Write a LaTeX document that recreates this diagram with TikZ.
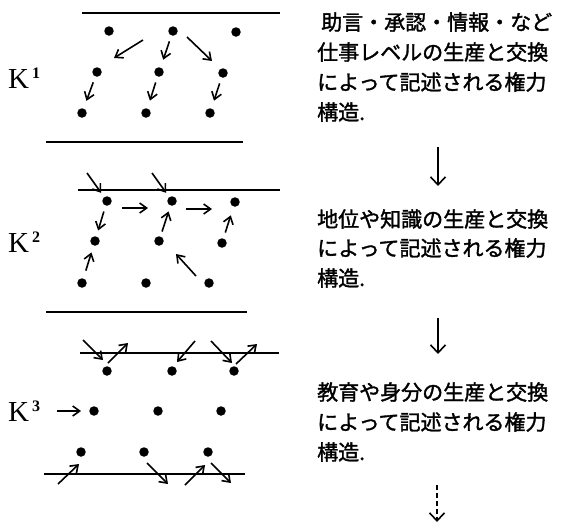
\documentclass[tikz,border=0pt]{standalone}
\usepackage{fontspec}
\newfontfamily\jp[FakeBold=1.6]{Noto Sans CJK JP}
\newfontfamily\kfont{Liberation Serif}
\usetikzlibrary{arrows.meta}
\newcommand{\ksup}[1]{\kern3pt\raisebox{10pt}{\fontsize{16}{16}\selectfont\bfseries #1}}
\tikzset{
  dot/.style={circle, fill=black, inner sep=0pt, minimum size=9.5pt},
  arr/.style={-{Straight Barb[length=7pt,width=10pt]}, line width=1.6pt},
  rule/.style={line width=1.7pt},
  klabel/.style={anchor=base west, inner sep=0pt, font=\kfont\fontsize{29}{29}\selectfont},
  jline/.style={anchor=base west, inner sep=0pt, font=\jp\fontsize{21}{21}\selectfont},
  darr/.style={-{Straight Barb[length=8pt,width=15pt]}, line width=1.6pt}
}
\begin{document}
\begin{tikzpicture}[x=1pt,y=-1pt]
\useasboundingbox (0,0) rectangle (566,523);
% ---------- K1 ----------
\draw[rule] (82,13) coordinate (l1a) -- (280,13) coordinate (l1b);
\draw[rule] (46,142) coordinate (l2a) -- (243,142) coordinate (l2b);
\node[klabel] (k1) at (8,88) {K\ksup{1}};
\node[dot] (a11) at (109,31) {};
\node[dot] (a12) at (173,31) {};
\node[dot] (a13) at (236,32) {};
\node[dot] (a21) at (97,72) {};
\node[dot] (a22) at (159,72) {};
\node[dot] (a23) at (223,73) {};
\node[dot] (a31) at (82,113) {};
\node[dot] (a32) at (146,113) {};
\node[dot] (a33) at (210,113) {};
\coordinate (f1s) at (143,40); \coordinate (f1e) at (114,58);
\draw[arr] (f1s) -- (f1e);
\draw[arr, shorten <=6pt, shorten >=8pt] (a12) -- (a22);
\coordinate (f2s) at (187,37); \coordinate (f2e) at (212,61);
\draw[arr] (f2s) -- (f2e);
\draw[arr, shorten <=6pt, shorten >=8pt] (a21) -- (a31);
\draw[arr, shorten <=6pt, shorten >=8pt] (a22) -- (a32);
\draw[arr, shorten <=6pt, shorten >=8pt] (a23) -- (a33);
% ---------- K2 ----------
\draw[rule] (78,190) coordinate (l3a) -- (280,190) coordinate (l3b);
\draw[rule] (46,312) coordinate (l4a) -- (247,312) coordinate (l4b);
\node[klabel] (k2) at (8,252) {K\ksup{2}};
\node[dot] (b11) at (107,201) {};
\node[dot] (b12) at (172,201) {};
\node[dot] (b13) at (235,202) {};
\node[dot] (b21) at (95,241) {};
\node[dot] (b22) at (159,241) {};
\node[dot] (b23) at (222,243) {};
\node[dot] (b31) at (82,283) {};
\node[dot] (b32) at (146,283) {};
\node[dot] (b33) at (209,283) {};
\coordinate (g1s) at (87,173); \coordinate (g2s) at (152,173);
\draw[arr, shorten >=5pt] (g1s) -- (b11);
\draw[arr, shorten >=5pt] (g2s) -- (b12);
\draw[arr, shorten <=6pt, shorten >=6pt] (b11) -- (b21);
\coordinate (h1s) at (122,208); \coordinate (h1e) at (148,208);
\coordinate (h2s) at (186,209); \coordinate (h2e) at (212,209);
\draw[arr] (h1s) -- (h1e);
\draw[arr] (h2s) -- (h2e);
\draw[arr, shorten <=5pt, shorten >=6pt] (b22) -- (b12);
\draw[arr, shorten <=6pt, shorten >=9pt] (b23) -- (b13);
\draw[arr, shorten <=8pt, shorten >=7pt] (b31) -- (b21);
\coordinate (g3s) at (196,276); \coordinate (g3e) at (176,254);
\draw[arr] (g3s) -- (g3e);
% ---------- K3 ----------
\draw[rule] (80,353) coordinate (l5a) -- (279,353) coordinate (l5b);
\draw[rule] (44,474) coordinate (l6a) -- (245,474) coordinate (l6b);
\node[klabel] (k3) at (8,421) {K\ksup{3}};
\node[dot] (c11) at (107,371) {};
\node[dot] (c12) at (172,371) {};
\node[dot] (c13) at (234,371) {};
\node[dot] (c21) at (94,411) {};
\node[dot] (c22) at (158,411) {};
\node[dot] (c23) at (221,411) {};
\node[dot] (c31) at (81,452) {};
\node[dot] (c32) at (144,452) {};
\node[dot] (c33) at (208,452) {};
\coordinate (k3s) at (57,411);
\draw[arr, shorten >=8pt] (k3s) -- (c21);
\coordinate (p1s) at (83,340);  \coordinate (p1e) at (103,360);
\coordinate (p2s) at (108,363); \coordinate (p2e) at (128,343);
\coordinate (p3s) at (195,341); \coordinate (p3e) at (177,362);
\coordinate (p4s) at (211,341); \coordinate (p4e) at (232,363);
\coordinate (p5s) at (236,364); \coordinate (p5e) at (257,344);
\draw[arr] (p1s) -- (p1e);
\draw[arr] (p2s) -- (p2e);
\draw[arr] (p3s) -- (p3e);
\draw[arr] (p4s) -- (p4e);
\draw[arr] (p5s) -- (p5e);
\coordinate (q1s) at (58,484);  \coordinate (q1e) at (79,464);
\coordinate (q2s) at (147,463); \coordinate (q2e) at (168,484);
\coordinate (q3s) at (185,485); \coordinate (q3e) at (205,465);
\coordinate (q4s) at (211,463); \coordinate (q4e) at (231,483);
\draw[arr] (q1s) -- (q1e);
\draw[arr] (q2s) -- (q2e);
\draw[arr] (q3s) -- (q3e);
\draw[arr] (q4s) -- (q4e);
% ---------- text column ----------
\node[jline] (t11) at (321,30) {助言・承認・情報・など};
\node[jline] (t12) at (317,60) {仕事レベルの生産と交換};
\node[jline] (t13) at (317,90) {によって記述される権力};
\node[jline] (t14) at (317,120) {構造.};
\node[jline] (t21) at (317,227) {地位や知識の生産と交換};
\node[jline] (t22) at (317,256) {によって記述される権力};
\node[jline] (t23) at (317,286) {構造.};
\node[jline] (t31) at (317,400) {教育や身分の生産と交換};
\node[jline] (t32) at (317,430) {によって記述される権力};
\node[jline] (t33) at (317,460) {構造.};
\coordinate (v1s) at (438,147); \coordinate (v1e) at (438,186);
\coordinate (v2s) at (438,318); \coordinate (v2e) at (438,354);
\coordinate (v3s) at (437,485); \coordinate (v3e) at (437,522);
\draw[darr] (v1s) -- (v1e);
\draw[darr] (v2s) -- (v2e);
\draw[darr, dash pattern=on 5pt off 3pt] (v3s) -- (v3e);
\end{tikzpicture}
\end{document}
